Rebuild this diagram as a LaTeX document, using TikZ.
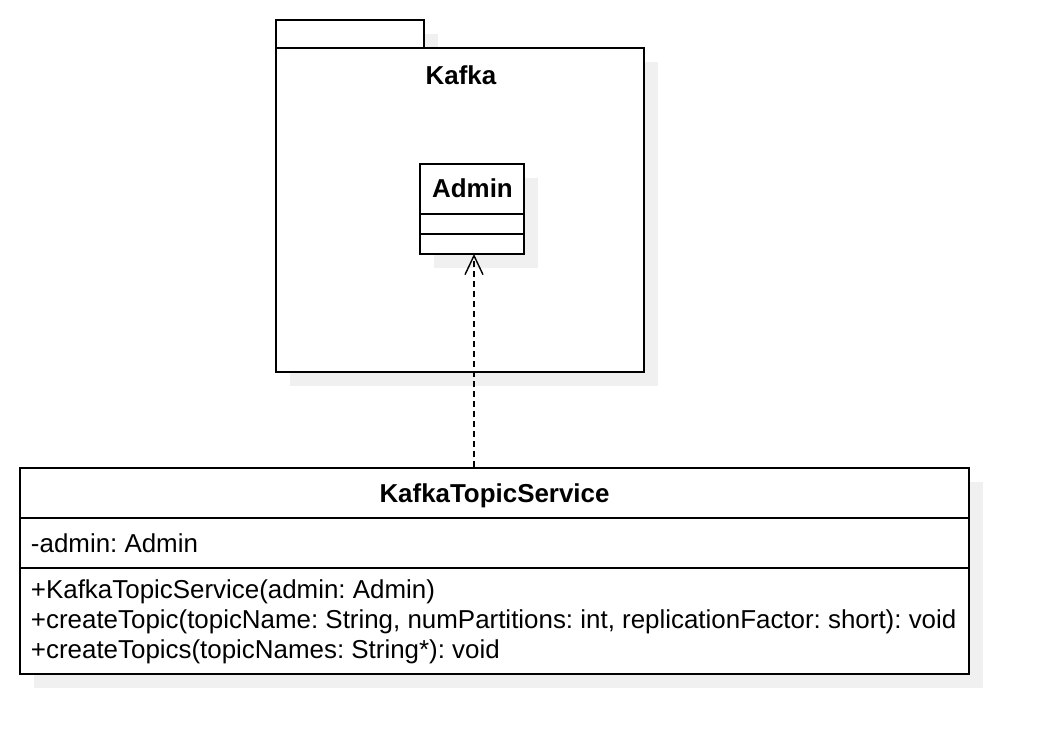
\documentclass[tikz,border=0pt]{standalone}
\usepackage{fontspec}
\setmainfont{Liberation Sans}
\usetikzlibrary{calc,arrows.meta}
\frenchspacing

\begin{document}
\begin{tikzpicture}[x=0.02cm,y=-0.02cm,line width=1.1pt,
    shade box/.style={fill=black!6,draw=none},
    white box/.style={fill=white,draw=black},
    uml text/.style={font=\fontsize{14.75}{17.1}\selectfont,inner sep=0pt},
    uml title/.style={inner sep=0pt,font=\fontsize{14.75}{17.1}\selectfont\bfseries}]
    \useasboundingbox (0,0) rectangle (1050,754);

    % package Kafka
    \coordinate (T1) at (276,20);
    \coordinate (T2) at (424,48);
    \coordinate (P1) at (276,48);
    \coordinate (P2) at (644,372);
    \fill[shade box] ($(T1)+(14,14)$) rectangle ($(T2)+(14,14)$);
    \fill[shade box] ($(P1)+(14,14)$) rectangle ($(P2)+(14,14)$);
    \draw[white box] (T1) rectangle (T2);
    \draw[white box] (P1) rectangle (P2);
    \node[uml title, anchor=base] (kafka) at (461,84) {Kafka};

    % class Admin
    \coordinate (A1) at (420,164);
    \coordinate (A2) at (524,254);
    \fill[shade box] ($(A1)+(14,14)$) rectangle ($(A2)+(14,14)$);
    \draw[white box] (A1) rectangle (A2);
    \draw (420,214) -- (524,214);
    \draw (420,234) -- (524,234);
    \node[uml title, anchor=base] (admin) at (472.5,197) {Admin};

    % class KafkaTopicService
    \coordinate (S1) at (20,468);
    \coordinate (S2) at (969,674);
    \fill[shade box] ($(S1)+(14,14)$) rectangle ($(S2)+(14,14)$);
    \draw[white box] (S1) rectangle (S2);
    \draw (20,518) -- (969,518);
    \draw (20,568) -- (969,568);
    \node[uml title, anchor=base] (service) at (494.5,502) {KafkaTopicService};
    \node[uml text, anchor=base west] (attr) at (30,552) {-admin: Admin};
    \node[uml text, anchor=base west] (m1) at (30,598) {+KafkaTopicService(admin: Admin)};
    \node[uml text, anchor=base west] (m2) at (30,628) {+createTopic(topicName: String, numPartitions: int, replicationFactor: short): void};
    \node[uml text, anchor=base west] (m3) at (30,658) {+createTopics(topicNames: String*): void};

    % dependency
    \coordinate (D1) at (474,467);
    \coordinate (D2) at (474,254);
    \draw[line width=0.8pt, dash pattern=on 0.12cm off 0.08cm,
        -{Straight Barb[length=0.38cm,width=0.36cm,line width=0.8pt]}] (D1) -- (D2);
\end{tikzpicture}
\end{document}
